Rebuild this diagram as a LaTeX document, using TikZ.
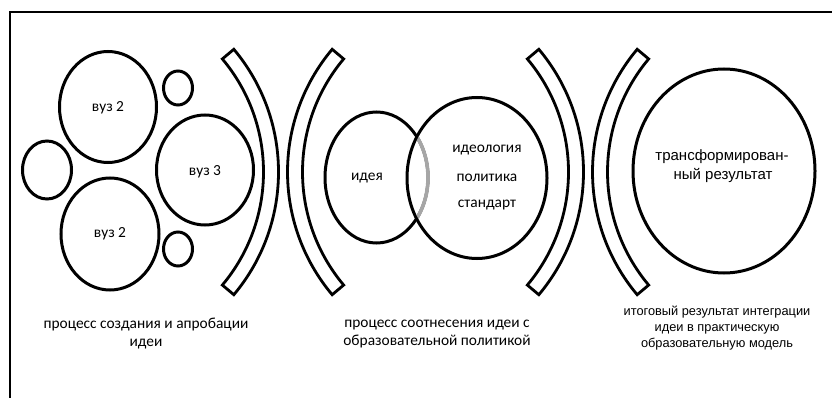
\documentclass[tikz,border=0pt]{standalone}
\usepackage{fontspec}
\setmainfont{Carlito}
\newfontfamily\arialf{Liberation Sans}
\usetikzlibrary{shapes.geometric}
\tikzset{
  ring/.style={ellipse, draw=black, line width=3pt, inner sep=0pt},
  band/.style={draw=black, line width=2.8pt, line join=miter, fill=white},
  seg/.style={font=\fontsize{15.4}{18}\selectfont, inner sep=0pt},
  ari/.style={font=\arialf\fontsize{12.8}{16}\selectfont, inner sep=0pt, align=center},
}
\begin{document}
\begin{tikzpicture}[x=1pt,y=-1pt]
\useasboundingbox (0,0) rectangle (832,398);
% frame
\coordinate (fr1) at (10,398);
\coordinate (fr2) at (10,12);
\coordinate (fr3) at (832,12);
\draw[line width=2.2pt] (fr1) -- (fr2) -- (fr3);

% group 1 circles
\node[ring, minimum width=97pt, minimum height=111pt] (v2a) at (108,107) {};
\node[ring, minimum width=29pt, minimum height=34pt] (s1) at (178,88) {};
\node[ring, minimum width=49pt, minimum height=58pt] (s2) at (47,170) {};
\node[ring, minimum width=97pt, minimum height=110pt] (v3) at (205,170) {};
\node[ring, minimum width=98pt, minimum height=112pt] (v2b) at (110,234) {};
\node[ring, minimum width=29pt, minimum height=34pt] (s3) at (178,249) {};
\node[seg] (t1) at (108,108) {вуз 2};
\node[seg] (t2) at (205,172) {вуз 3};
\node[seg] (t3) at (110,234) {вуз 2};

% brackets
\foreach \dx in {0,305}{
  \draw[band] ([shift={(87.6+\dx,172)}]40:175.9) arc[start angle=40,end angle=-40,radius=175.9]
     -- ([shift={(87.6+\dx,172)}]-40:190.9) arc[start angle=-40,end angle=40,radius=190.9] -- cycle;
  \draw[band] ([shift={(478.4+\dx,172)}]140:175.9) arc[start angle=140,end angle=220,radius=175.9]
     -- ([shift={(478.4+\dx,172)}]220:190.9) arc[start angle=220,end angle=140,radius=190.9] -- cycle;
}

% group 2
\node[ring, minimum width=103pt, minimum height=131pt] (idea) at (376.5,177.5) {};
\node[ring, minimum width=140pt, minimum height=161pt] (pol) at (477,178) {};
\begin{scope}
  \clip (477,178) ellipse[x radius=68.5, y radius=79];
  \draw[line width=3.6pt, gray!70] (376.5,177.5) ellipse[x radius=51.5, y radius=65.5];
\end{scope}
\node[seg] (t4) at (367,178) {идея};
\node[seg] (t5) at (487,150) {идеология};
\node[seg] (t6) at (487,178) {политика};
\node[seg] (t7) at (487,205) {стандарт};

% group 3
\node[ring, minimum width=182pt, minimum height=204pt] (res) at (724,171) {};
\node[ari, font=\arialf\fontsize{15}{18}\selectfont] (t8) at (722,157) {трансформирован-};
\node[ari, font=\arialf\fontsize{15}{18}\selectfont] (t9) at (723,175) {ный результат};

% captions
\node[seg, align=center, font=\fontsize{15.4}{18}\selectfont] (c1) at (146,334) {процесс создания и апробации\\идеи};
\node[seg, align=center, font=\fontsize{15.4}{18}\selectfont] (c2) at (437,334) {процесс соотнесения идеи с\\образовательной политикой};
\node[ari] (c3) at (717,328) {итоговый результат интеграции\\идеи в практическую\\образовательную модель};
\end{tikzpicture}
\end{document}
